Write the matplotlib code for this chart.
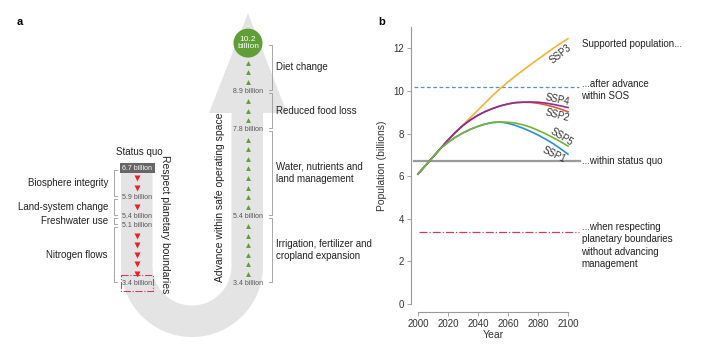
"""Supported population: diagram (a) and SSP projections (b)."""
import numpy as np
import matplotlib.pyplot as plt
from matplotlib.patches import Polygon, Circle, Rectangle

plt.rcParams['font.family'] = ['Liberation Sans', 'DejaVu Sans']

# ---- data, panel b
years = list(range(2000, 2101, 5))
ssp3 = [6.1, 6.5, 6.9, 7.3, 7.68, 8.04, 8.4, 8.75, 9.1, 9.45, 9.8,
        10.12, 10.42, 10.7, 10.97, 11.23, 11.49, 11.74, 11.99, 12.23, 12.45]
ssp2 = [6.1, 6.5, 6.9, 7.3, 7.7, 8.06, 8.38, 8.64, 8.86, 9.04, 9.18,
        9.3, 9.39, 9.45, 9.47, 9.46, 9.42, 9.35, 9.26, 9.15, 9.02]
ssp4 = [6.1, 6.5, 6.9, 7.3, 7.7, 8.06, 8.38, 8.64, 8.86, 9.04, 9.18,
        9.3, 9.39, 9.45, 9.47, 9.48, 9.47, 9.43, 9.37, 9.3, 9.22]
ssp1 = [6.1, 6.5, 6.9, 7.3, 7.58, 7.83, 8.03, 8.2, 8.34, 8.45, 8.52,
        8.54, 8.48, 8.38, 8.25, 8.1, 7.93, 7.74, 7.53, 7.29, 7.03]
ssp5 = [6.1, 6.5, 6.9, 7.3, 7.58, 7.83, 8.03, 8.2, 8.34, 8.45, 8.52,
        8.54, 8.53, 8.49, 8.41, 8.3, 8.15, 7.99, 7.81, 7.62, 7.41]
status_quo = 6.7
after_sos = 10.2
boundaries = 3.4

# ---- data, panel a
left_values = ['6.7', '5.9', '5.4', '5.1', '3.4']
left_steps = [2, 1, 0, 5]
left_groups = ['Biosphere integrity', 'Land-system change', 'Freshwater use',
               'Nitrogen flows']
right_values = ['10.2', '8.9', '7.8', '5.4', '3.4']
right_steps = [3, 3, 8, 6]
right_groups = ['Diet change', 'Reduced food loss',
                'Water, nutrients and\nland management',
                'Irrigation, fertilizer and\ncropland expansion']

GREEN = '#5f9f35'
RED = '#f02020'
GRAY = '#555555'


def column(values, steps, bottom=283.5, gap=9.6):
    """y positions of the value labels and the triangles, bottom up."""
    n = len(values) + sum(steps)
    ys = [bottom - (n - 1 - i) * gap for i in range(n)]
    vals, tris = [], []
    i = 0
    for k, v in enumerate(values):
        vals.append(ys[i])
        i += 1
        if k < len(steps):
            tris += ys[i:i + steps[k]]
            i += steps[k]
    return vals, tris


fig = plt.figure(figsize=(7.2, 3.49), dpi=100)
ax = fig.add_axes([0, 0, 1, 1])
ax.set_xlim(0, 720)
ax.set_ylim(349, 0)
ax.axis('off')

# big U-shaped arrow
cx, cy, ro, ri = 192, 266, 71, 39.5
t = np.linspace(np.pi, 0, 60)
outer = [(cx + ro * np.cos(a), cy + ro * np.sin(a)) for a in t]
inner = [(cx + ri * np.cos(a), cy + ri * np.sin(a)) for a in t[::-1]]
verts = ([(cx - ro, 163)] + outer +
         [(cx + ro, 113), (287, 113), (248, 13), (209, 113), (cx + ri, 113)] +
         inner + [(cx - ri, 163)])
ax.add_patch(Polygon(verts, closed=True, fc='#e4e4e4', ec='none', zorder=0))

# left column
lx = 137
lv, lt = column(left_values, left_steps)
ax.plot([lx] * len(lt), lt, 'v', color=RED, ms=4, mec='none')
for k, (v, y) in enumerate(zip(left_values, lv)):
    if k == 0:
        ax.add_patch(Rectangle((120, y - 5), 35, 10, fc='#666666', ec='none'))
        ax.text(lx + 0.5, y, v + ' billion', color='white', fontsize=5,
                ha='center', va='center')
    elif k == len(left_values) - 1:
        ax.add_patch(Rectangle((121, y - 8.5), 32, 16, fc='none', ec='#c8405a',
                               ls='-.', lw=0.8))
        ax.text(lx, y, v + ' billion', color=GRAY, fontsize=5,
                ha='center', va='center')
    else:
        ax.text(lx, y, v + ' billion', color=GRAY, fontsize=5,
                ha='center', va='center')
for k, name in enumerate(left_groups):
    y0, y1 = lv[k] + 1.5, lv[k + 1] - 1.5
    ax.plot([117, 114, 114, 117], [y0, y0, y1, y1], color='#999999', lw=0.6)
    ax.text(108, (lv[k] + lv[k + 1]) / 2, name, fontsize=7, color='#222222',
            ha='right', va='center')
ax.text(lx + 2, 152, 'Status quo', fontsize=7, color='#222222',
        ha='center', va='center')
ax.text(165, 224, 'Respect planetary boundaries', fontsize=7.5, color='#222222',
        rotation=-90, ha='center', va='center')

# right column
rx = 248
rv, rt = column(right_values, right_steps)
ax.plot([rx] * len(rt), rt, '^', color=GREEN, ms=3.5, mec='none')
rv[0] -= 10
for k, (v, y) in enumerate(zip(right_values, rv)):
    if k == 0:
        ax.add_patch(Circle((rx, y), 14.5, fc=GREEN, ec='none'))
        ax.text(rx, y, v + '\nbillion', color='white', fontsize=6,
                ha='center', va='center', linespacing=1.1)
    else:
        ax.text(rx, y, v + ' billion', color=GRAY, fontsize=5,
                ha='center', va='center')
for k, name in enumerate(right_groups):
    y0, y1 = rv[k] + 1.5, rv[k + 1] - 1.5
    ax.plot([269, 272, 272, 269], [y0, y0, y1, y1], color='#999999', lw=0.6)
    ax.text(276, (rv[k] + rv[k + 1]) / 2, name, fontsize=7, color='#222222',
            ha='left', va='center', linespacing=1.3)
ax.text(220, 197, 'Advance within safe operating space', fontsize=7.5,
        color='#222222', rotation=90, ha='center', va='center')

ax.text(20, 22, 'a', fontsize=8, fontweight='bold', ha='center', va='center')
ax.text(382, 22, 'b', fontsize=8, fontweight='bold', ha='center', va='center')

# ---- panel b
bx = fig.add_axes([418 / 720, 45 / 349, 150 / 720, 277 / 349])
bx.set_xlim(2000, 2100)
bx.set_ylim(0, 13)
for s in ['top', 'right']:
    bx.spines[s].set_visible(False)
bx.spines['left'].set_position(('outward', 5))
bx.spines['bottom'].set_position(('outward', 6))
bx.spines['left'].set_bounds(0, 13)
bx.spines['bottom'].set_bounds(2000, 2100)
for s in ['left', 'bottom']:
    bx.spines[s].set_color('#999999')
    bx.spines[s].set_linewidth(0.8)
bx.set_xticks(range(2000, 2101, 20))
bx.set_yticks(range(0, 13, 2))
bx.tick_params(length=3, width=0.6, color='#999999', labelsize=7,
               labelcolor='#333333', pad=2)
bx.set_xlabel('Year', fontsize=7.5, color='#333333')
bx.set_ylabel('Population (billions)', fontsize=7.5, color='#333333')
bx.xaxis.set_label_coords(0.5, -0.095)
bx.yaxis.set_label_coords(-0.21, 0.5)

bx.plot([1997, 2108], [status_quo] * 2, color='#9a9a9a', lw=1.6,
        clip_on=False, zorder=1)
bx.plot([1997, 2107], [after_sos] * 2, color='#4f93c8', lw=0.9,
        ls=(0, (3, 2)), clip_on=False)
bx.plot([2000.5, 2107], [boundaries] * 2, color='#c8405a', lw=0.9, ls='-.',
        clip_on=False)

bx.plot(years, ssp3, color='#f5b335', lw=1.2, clip_on=False)
bx.plot(years, ssp2, color='#e8582a', lw=1.2, clip_on=False)
bx.plot(years, ssp4, color='#8e2c9c', lw=1.2, clip_on=False)
bx.plot(years, ssp1, color='#2a8fd9', lw=1.2, clip_on=False)
bx.plot(years, ssp5, color='#72b43a', lw=1.2, clip_on=False)

lab = dict(fontsize=7, color='#333333', ha='center', va='center')
bx.text(2095, 11.75, 'SSP3', rotation=38, **lab)
bx.text(2093, 9.6, 'SSP4', rotation=-12, **lab)
bx.text(2093, 8.84, 'SSP2', rotation=-15, **lab)
bx.text(2096, 7.84, 'SSP5', rotation=-32, **lab)
bx.text(2091, 7.02, 'SSP1', rotation=-26, **lab)

note = dict(fontsize=7, color='#222222', ha='left', clip_on=False,
            linespacing=1.3)
bx.text(2109, 12.2, 'Supported population...', va='center', **note)
bx.text(2109, 10.05, '...after advance\nwithin SOS', va='center', **note)
bx.text(2109, status_quo, '...within status quo', va='center', **note)
bx.text(2109, 3.85, '...when respecting\nplanetary boundaries\n'
        'without advancing\nmanagement', va='top', **note)

fig.savefig('out.png', dpi=100)
